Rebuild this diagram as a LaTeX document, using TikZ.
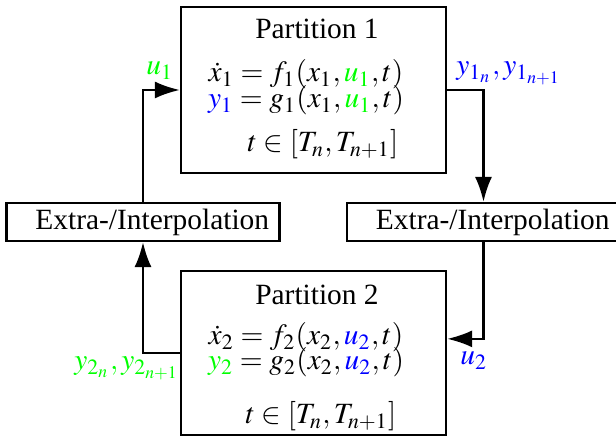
\documentclass[tikz,border=0pt]{standalone}
\usepackage{mathptmx}
\usepackage{fontspec}
\setmainfont{Liberation Serif}
\usetikzlibrary{arrows.meta}

\begin{document}
\begin{tikzpicture}[x=0.34pt,y=-0.34pt,
    box/.style={draw,line width=0.8pt,inner sep=0pt},
    interp/.style={box,minimum width=92.8pt,minimum height=12.9pt},
    flow/.style={line width=0.8pt,-{Latex[length=8.5pt,width=5.8pt]}},
    txt/.style={anchor=base,inner sep=0pt}]
    \useasboundingbox (0,0) rectangle (616,437);

    % partitions
    \node[box,minimum width=90.1pt,minimum height=56.4pt] (p1) at (313.5,90) {};
    \node[box,minimum width=90.1pt,minimum height=55.8pt] (p2) at (313.5,353) {};
    \node[txt] (p1title) at (317,39) {Partition 1};
    \node[txt] (p1eqa) at (306,82) {$\dot{x}_1 = f_1(x_1,{\color{green}u_1},t)$};
    \node[txt] (p1eqb) at (306,108) {${\color{blue}y_1} = g_1(x_1,{\color{green}u_1},t)$};
    \node[txt] (p1time) at (323,152) {$t \in [T_n,T_{n+1}]$};
    \node[txt] (p2title) at (317,305) {Partition 2};
    \node[txt] (p2eqa) at (306,345) {$\dot{x}_2 = f_2(x_2,{\color{blue}u_2},t)$};
    \node[txt] (p2eqb) at (306,370) {${\color{green}y_2} = g_2(x_2,{\color{blue}u_2},t)$};
    \node[txt] (p2time) at (321,424) {$t \in [T_n,T_{n+1}]$};

    % extra-/interpolation (second one runs past the page edge)
    \node[interp] (ei1) at (143,222) {\hspace*{6.3pt}Extra-/Interpolation};
    \node[interp] (ei2) at (483.5,222) {\hspace*{6.3pt}Extra-/Interpolation};

    % exchanged signals
    \draw[flow] (p1.east) -| (ei2.north);
    \draw[flow] (ei2.south) |- ([yshift=4.8pt]p2.east);
    \draw[flow] (p2.west) -| (ei1.south);
    \draw[flow] (ei1.north) |- (p1.west);

    \node[txt,text=green] (u1) at (160,75) {$u_1$};
    \node[txt,text=blue] (y1) at (509,75) {$y_{1_n},y_{1_{n+1}}$};
    \node[txt,text=green] (y2) at (127,370) {$y_{2_n},y_{2_{n+1}}$};
    \node[txt,text=blue] (u2) at (474,365) {$u_2$};
\end{tikzpicture}
\end{document}
